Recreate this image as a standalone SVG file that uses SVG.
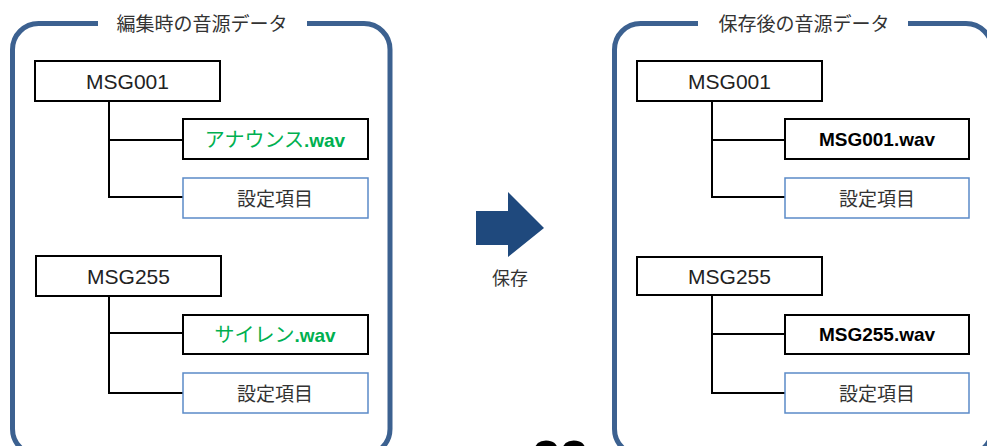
<svg xmlns="http://www.w3.org/2000/svg" width="987" height="446" viewBox="0 0 987 446">
<style>
.frame{fill:none;stroke:#3C6190;stroke-width:5}
.box{fill:#fff;stroke:#000;stroke-width:2}
.set{fill:#fff;stroke:#5B8AC8;stroke-width:1.5}
.conn{fill:none;stroke:#000;stroke-width:2}
.jp{font-family:"Noto Sans CJK JP","Liberation Sans",sans-serif;fill:#333;text-anchor:middle}
.msg{font-family:"Liberation Sans","Noto Sans CJK JP",sans-serif;font-size:21px;fill:#222;text-anchor:middle}
.wav{font-family:"Liberation Sans","Noto Sans CJK JP",sans-serif;font-size:19px;font-weight:bold;fill:#000;text-anchor:middle}
.grn{font-family:"Noto Sans CJK JP","Liberation Sans",sans-serif;font-size:20px;fill:#00B050;text-anchor:middle}
</style>
<rect width="987" height="446" fill="#fff"/>
<g id="frame-left">
<path class="frame" d="M98,23.5 H38.5 A26,26 0 0 0 12.5,49.5 V429 A26,26 0 0 0 38.5,455 H364 A26,26 0 0 0 390,429 V49.5 A26,26 0 0 0 364,23.5 H307"/>
<text class="jp" x="202" y="31" font-size="19">編集時の音源データ</text>
</g>
<g id="frame-right">
<path class="frame" d="M698,23.5 H640.5 A26,26 0 0 0 614.5,49.5 V429 A26,26 0 0 0 640.5,455 H966 A26,26 0 0 0 992,429 V49.5 A26,26 0 0 0 966,23.5 H908"/>
<text class="jp" x="804" y="31" font-size="19">保存後の音源データ</text>
</g>
<g id="connectors">
<path class="conn" d="M109,101 V197 H183 M109,140 H183"/>
<path class="conn" d="M109,296 V393 H183 M109,333 H183"/>
<path class="conn" d="M712,101 V197 H785 M712,140 H785"/>
<path class="conn" d="M712,295 V393 H785 M712,334 H785"/>
</g>
<g id="l-msg001"><rect class="box" x="35" y="61" width="185" height="40"/><text class="msg" x="127.5" y="89">MSG001</text></g>
<g id="l-wav001"><rect class="box" x="183" y="119" width="185" height="40"/><text class="grn" x="275" y="147">アナウンス<tspan font-family="Liberation Sans" font-weight="bold" font-size="19">.wav</tspan></text></g>
<g id="l-set001"><rect class="set" x="183" y="178" width="185" height="40"/><text class="jp" x="275" y="206" font-size="19">設定項目</text></g>
<g id="l-msg255"><rect class="box" x="36" y="256" width="185" height="40"/><text class="msg" x="128.5" y="284">MSG255</text></g>
<g id="l-wav255"><rect class="box" x="183" y="315" width="185" height="39"/><text class="grn" x="275" y="342">サイレン<tspan font-family="Liberation Sans" font-weight="bold" font-size="19">.wav</tspan></text></g>
<g id="l-set255"><rect class="set" x="183" y="373" width="185" height="40"/><text class="jp" x="275" y="401" font-size="19">設定項目</text></g>
<g id="save-arrow"><polygon points="476,211 508,211 508,192 544,228 508,257 508,245 476,245" fill="#1F497D"/><text class="jp" x="510" y="285" font-size="18">保存</text></g>
<g id="r-msg001"><rect class="box" x="637" y="61" width="185" height="40"/><text class="msg" x="729.5" y="89">MSG001</text></g>
<g id="r-wav001"><rect class="box" x="785" y="119" width="184" height="40"/><text class="wav" x="877" y="146">MSG001.wav</text></g>
<g id="r-set001"><rect class="set" x="785" y="178" width="184" height="40"/><text class="jp" x="877" y="206" font-size="19">設定項目</text></g>
<g id="r-msg255"><rect class="box" x="637" y="257" width="185" height="38"/><text class="msg" x="729.5" y="284">MSG255</text></g>
<g id="r-wav255"><rect class="box" x="785" y="315" width="184" height="39"/><text class="wav" x="877" y="341">MSG255.wav</text></g>
<g id="r-set255"><rect class="set" x="785" y="373" width="184" height="40"/><text class="jp" x="877" y="401" font-size="19">設定項目</text></g>
<text x="560" y="476" font-family="Liberation Sans,sans-serif" font-size="50" font-weight="bold" text-anchor="middle" fill="#000">22</text>
</svg>
